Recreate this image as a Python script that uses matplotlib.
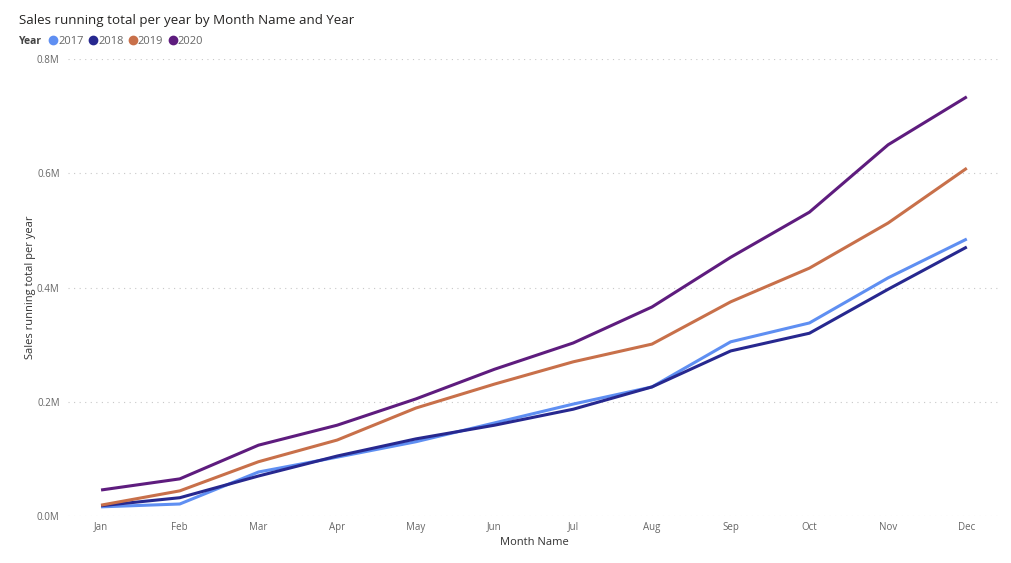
import matplotlib
matplotlib.use("Agg")
import matplotlib.pyplot as plt
from matplotlib.lines import Line2D

plt.rcParams['font.family'] = ['Open Sans', 'DejaVu Sans']

# Data (values in millions)
months = ['Jan', 'Feb', 'Mar', 'Apr', 'May', 'Jun', 'Jul', 'Aug', 'Sep', 'Oct', 'Nov', 'Dec']
years = ['2017', '2018', '2019', '2020']
sales_2017 = [0.016, 0.021, 0.077, 0.103, 0.130, 0.163, 0.196, 0.226, 0.305, 0.338, 0.417, 0.485]
sales_2018 = [0.018, 0.032, 0.070, 0.105, 0.135, 0.159, 0.187, 0.226, 0.289, 0.320, 0.397, 0.471]
sales_2019 = [0.019, 0.044, 0.095, 0.133, 0.189, 0.231, 0.270, 0.301, 0.375, 0.434, 0.513, 0.609]
sales_2020 = [0.0455, 0.065, 0.124, 0.159, 0.205, 0.257, 0.303, 0.366, 0.453, 0.532, 0.650, 0.734]
yticks = [0.0, 0.2, 0.4, 0.6, 0.8]

colors = ['#5F8FF2', '#27288F', '#C8704A', '#5E1C7E']
series = [sales_2017, sales_2018, sales_2019, sales_2020]

fig = plt.figure(figsize=(10.12, 5.63), dpi=100)
ax = fig.add_axes([0.0672, 0.0835, 0.9208, 0.8115])

x = list(range(len(months)))
for vals, c, yr in zip(series, colors, years):
    ax.plot(x, vals, color=c, linewidth=2.2, solid_capstyle='butt', label=yr)

ax.set_xlim(-0.42, 11.42)
ax.set_ylim(0, 0.8)
ax.set_xticks(x)
ax.set_xticklabels(months)
ax.set_yticks(yticks)
ax.set_yticklabels([f'{v:.1f}M' for v in yticks])
ax.tick_params(axis='both', length=0, labelsize=7, colors='#666666')
ax.tick_params(axis='x', pad=4)
ax.tick_params(axis='y', pad=6)
ax.grid(axis='y', color='#C8C8C8', linestyle=(0, (1, 4)), linewidth=0.8)
for s in ax.spines.values():
    s.set_visible(False)
ax.set_axisbelow(True)

ax.set_xlabel('Month Name', fontsize=8, color='#333333', labelpad=3)
ax.set_ylabel('Sales running total per year', fontsize=8, color='#333333', labelpad=1)

fig.text(0.019, 0.963, 'Sales running total per year by Month Name and Year',
         fontsize=9.6, color='#252423', va='center')
fig.text(0.019, 0.927, 'Year', fontsize=7.5, fontweight='bold', color='#444444', va='center')

# legend entries
handles = [Line2D([], [], marker='o', linestyle='none', markersize=6,
                  markerfacecolor=c, markeredgecolor=c) for c in colors]
leg = fig.legend(handles, years, loc='center left', bbox_to_anchor=(0.048, 0.927),
                 frameon=False, ncol=4, fontsize=8, handletextpad=0.05,
                 columnspacing=0.45, handlelength=0.8, borderaxespad=0, borderpad=0)
for t in leg.get_texts():
    t.set_color('#666666')

fig.savefig('out.png', dpi=100)
